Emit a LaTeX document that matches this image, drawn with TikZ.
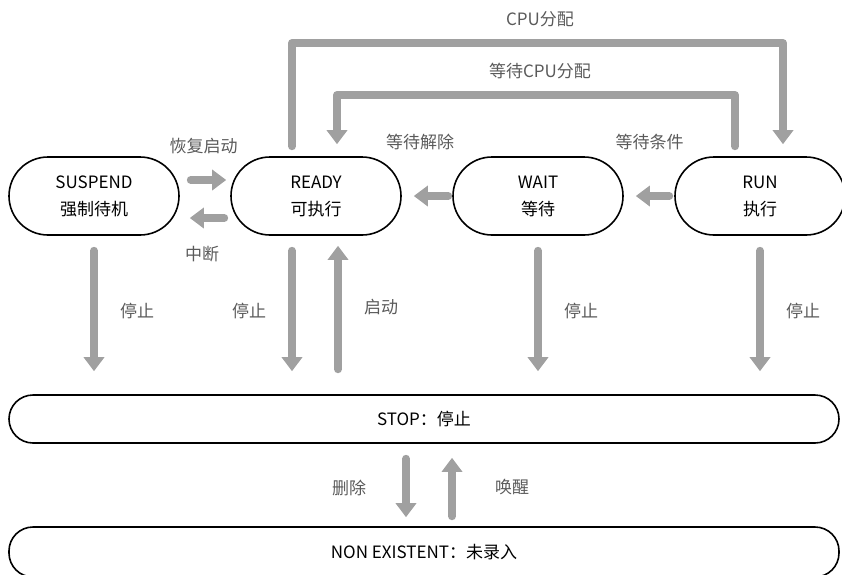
\documentclass[tikz,border=0pt]{standalone}
\usepackage{fontspec}
\setmainfont{Noto Sans CJK SC}
\usetikzlibrary{arrows.meta}
\definecolor{flowgray}{HTML}{A0A0A0}
\definecolor{labelgray}{HTML}{5A5A5A}
\begin{document}
\begin{tikzpicture}[x=1pt, y=-1pt,
	state/.style={draw, line width=1.6pt, rounded corners=39pt, minimum width=170pt, minimum height=78pt, inner sep=0pt, align=center, font=\fontsize{17}{27}\selectfont},
	bar/.style={draw, line width=1.6pt, rounded corners=24pt, minimum width=830pt, minimum height=48pt, font=\fontsize{17}{20}\selectfont},
	flow/.style={draw=flowgray, line width=8pt, line cap=round, line join=round, -{Triangle[width=20pt, length=14pt]}},
	lbl/.style={text=labelgray, font=\fontsize{17}{20}\selectfont, inner sep=2pt}]
	\useasboundingbox (0,0) rectangle (842,574);

	\node[state] (susp) at (94,196) {SUSPEND\\强制待机};
	\node[state] (ready) at (316,196) {READY\\可执行};
	\node[state] (wait) at (538,196) {WAIT\\等待};
	\node[state] (run) at (760,196) {RUN\\执行};
	\node[bar] (stop) at (424,419) {STOP：停止};
	\node[bar, minimum height=50pt] (nonex) at (424,552) {NON EXISTENT：未录入};

	\draw[flow] ([xshift=11pt,yshift=16pt]susp.east) -- ([xshift=-4pt,yshift=16pt]ready.west)
		node[lbl, midway, above=20pt, xshift=-5pt] {恢复启动};
	\draw[flow] ([xshift=-6pt,yshift=-22pt]ready.west) -- ([xshift=10pt,yshift=-22pt]susp.east)
		node[lbl, midway, below=22pt, xshift=-5pt] {中断};
	\draw[flow] ([xshift=-4pt]wait.west) -- ([xshift=12pt]ready.east)
		node[lbl, midway, above=40pt, xshift=-11pt] {等待解除};
	\draw[flow] ([xshift=-5pt]run.west) -- ([xshift=12pt]wait.east)
		node[lbl, midway, above=40pt, xshift=-3pt] {等待条件};

	\coordinate (cputop) at (540,43);
	\coordinate (waittop) at (540,95);
	\draw[flow] ([xshift=-24pt,yshift=10pt]ready.north) |- (cputop) node[lbl, above=10pt] {CPU分配}
		-| ([xshift=23pt,yshift=12pt]run.north);
	\draw[flow] ([xshift=-25pt,yshift=10pt]run.north) |- (waittop) node[lbl, above=10pt] {等待CPU分配}
		-| ([xshift=21pt,yshift=12pt]ready.north);

	\foreach \n/\dx/\anc/\lx in {susp/0/west/20, ready/-24/east/-20, wait/0/west/20, run/0/west/20}
		\draw[flow] ([xshift=\dx pt,yshift=-15pt]\n.south) -- ([xshift=\dx pt,yshift=23pt]\n.south |- stop.north)
		node[lbl, midway, anchor=\anc, xshift=\lx pt] {停止};
	\draw[flow] ([xshift=22pt,yshift=25pt]ready.south |- stop.north) -- ([xshift=22pt,yshift=-10pt]ready.south)
		node[lbl, midway, anchor=west, xshift=20pt] {启动};

	\draw[flow] ([xshift=-18pt,yshift=-15pt]stop.south) -- ([xshift=-18pt,yshift=9pt]nonex.north)
		node[lbl, midway, anchor=east, xshift=-34pt] {删除};
	\draw[flow] ([xshift=28pt,yshift=10pt]nonex.north) -- ([xshift=28pt,yshift=-14pt]stop.south)
		node[lbl, midway, anchor=west, xshift=37pt] {唤醒};
\end{tikzpicture}
\end{document}
